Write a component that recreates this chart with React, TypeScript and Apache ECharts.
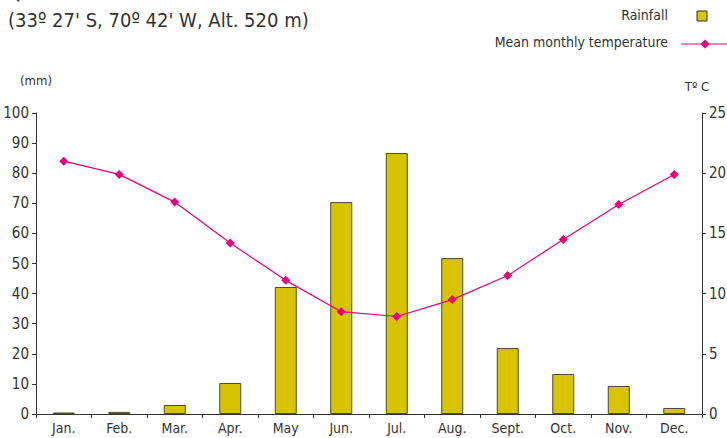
import React, { useEffect, useRef } from "react";
import * as echarts from "echarts";

const months = ["Jan.", "Feb.", "Mar.", "Apr.", "May", "Jun.", "Jul.", "Aug.", "Sept.", "Oct.", "Nov.", "Dec."];
const rainfall = [0.5, 0.7, 3.0, 10.3, 42.2, 70.4, 86.7, 51.8, 21.9, 13.3, 9.3, 2.0];
const temperature = [21.0, 19.9, 17.6, 14.2, 11.1, 8.5, 8.1, 9.5, 11.5, 14.5, 17.4, 19.9];
const rainTicks = [0, 10, 20, 30, 40, 50, 60, 70, 80, 90, 100];
const tempTicks = [0, 5, 10, 15, 20, 25];

const FONT = '"DejaVu Sans Condensed", "Open Sans", sans-serif';
const BAR = "#d8c300";
const LINE = "#e6007e";
const AXIS = "#333333";
const TXT = "#333333";

export default function App() {
  const ref = useRef<HTMLDivElement>(null);
  useEffect(() => {
    if (!ref.current) return;
    const chart = echarts.init(ref.current, null, { renderer: "svg" });
    chart.setOption({
      animation: false,
      textStyle: { fontFamily: FONT },
      grid: { left: 36, right: 25, top: 113, bottom: 24, containLabel: false, outerBoundsMode: "none" },
      xAxis: {
        type: "category",
        data: months,
        axisLine: { lineStyle: { color: AXIS, width: 1 } },
        axisTick: { show: true, alignWithLabel: false, length: 4, lineStyle: { color: AXIS } },
        axisLabel: { color: TXT, fontSize: 14, fontFamily: FONT, margin: 7 },
      },
      yAxis: [
        {
          type: "value",
          min: rainTicks[0],
          max: rainTicks[rainTicks.length - 1],
          interval: 10,
          name: "(mm)",
          nameLocation: "end",
          nameGap: 26,
          nameTextStyle: { color: TXT, fontSize: 13, fontFamily: FONT, align: "center" },
          axisLine: { show: true, lineStyle: { color: AXIS, width: 1 } },
          axisTick: { show: true, length: 4, lineStyle: { color: AXIS } },
          axisLabel: { color: TXT, fontSize: 15, fontFamily: FONT, margin: 7 },
          splitLine: { show: false },
        },
        {
          type: "value",
          min: tempTicks[0],
          max: tempTicks[tempTicks.length - 1],
          interval: 5,
          name: "Tº C",
          nameLocation: "end",
          nameGap: 20,
          nameTextStyle: { color: TXT, fontSize: 13, fontFamily: FONT, align: "center", padding: [0, 10, 0, 0] },
          axisLine: { show: true, lineStyle: { color: AXIS, width: 1 } },
          axisTick: { show: true, length: 4, lineStyle: { color: AXIS } },
          axisLabel: { color: TXT, fontSize: 15, fontFamily: FONT, margin: 7 },
          splitLine: { show: false },
        },
      ],
      series: [
        {
          name: "Rainfall",
          type: "bar",
          data: rainfall,
          barWidth: 22,
          yAxisIndex: 0,
          itemStyle: { color: BAR, borderColor: "#4d4a30", borderWidth: 1 },
          z: 2,
        },
        {
          name: "Mean monthly temperature",
          type: "line",
          data: temperature,
          yAxisIndex: 1,
          symbol: "diamond",
          symbolSize: 9,
          lineStyle: { color: LINE, width: 1.2 },
          itemStyle: { color: LINE },
          z: 3,
        },
      ],
      graphic: [
        {
          type: "text",
          left: 8,
          top: -18,
          style: { text: "Quinta Normal Station", fill: TXT, font: `20px ${FONT}` },
        },
        {
          type: "text",
          left: 8,
          top: 10,
          style: { text: "(33º 27' S, 70º 42' W, Alt. 520 m)", fill: TXT, font: `20px ${FONT}` },
        },
        {
          type: "text",
          right: 59,
          top: 8,
          style: { text: "Rainfall", fill: TXT, font: `14px ${FONT}`, align: "right" },
        },
        {
          type: "rect",
          shape: { x: 697, y: 11, width: 10, height: 10 },
          style: { fill: BAR, stroke: "#333", lineWidth: 1 },
        },
        {
          type: "text",
          right: 59,
          top: 35,
          style: { text: "Mean monthly temperature", fill: TXT, font: `14px ${FONT}`, align: "right" },
        },
        {
          type: "line",
          shape: { x1: 681, y1: 44, x2: 727, y2: 44 },
          style: { stroke: LINE, lineWidth: 1.2 },
        },
        {
          type: "polygon",
          shape: { points: [[705, 39.5], [709.5, 44], [705, 48.5], [700.5, 44]] },
          style: { fill: LINE },
        },
      ],
    });
    return () => chart.dispose();
  }, []);
  return <div ref={ref} style={{ width: 727, height: 438, position: "absolute", left: 0, top: 0, background: "#fff" }} />;
}
